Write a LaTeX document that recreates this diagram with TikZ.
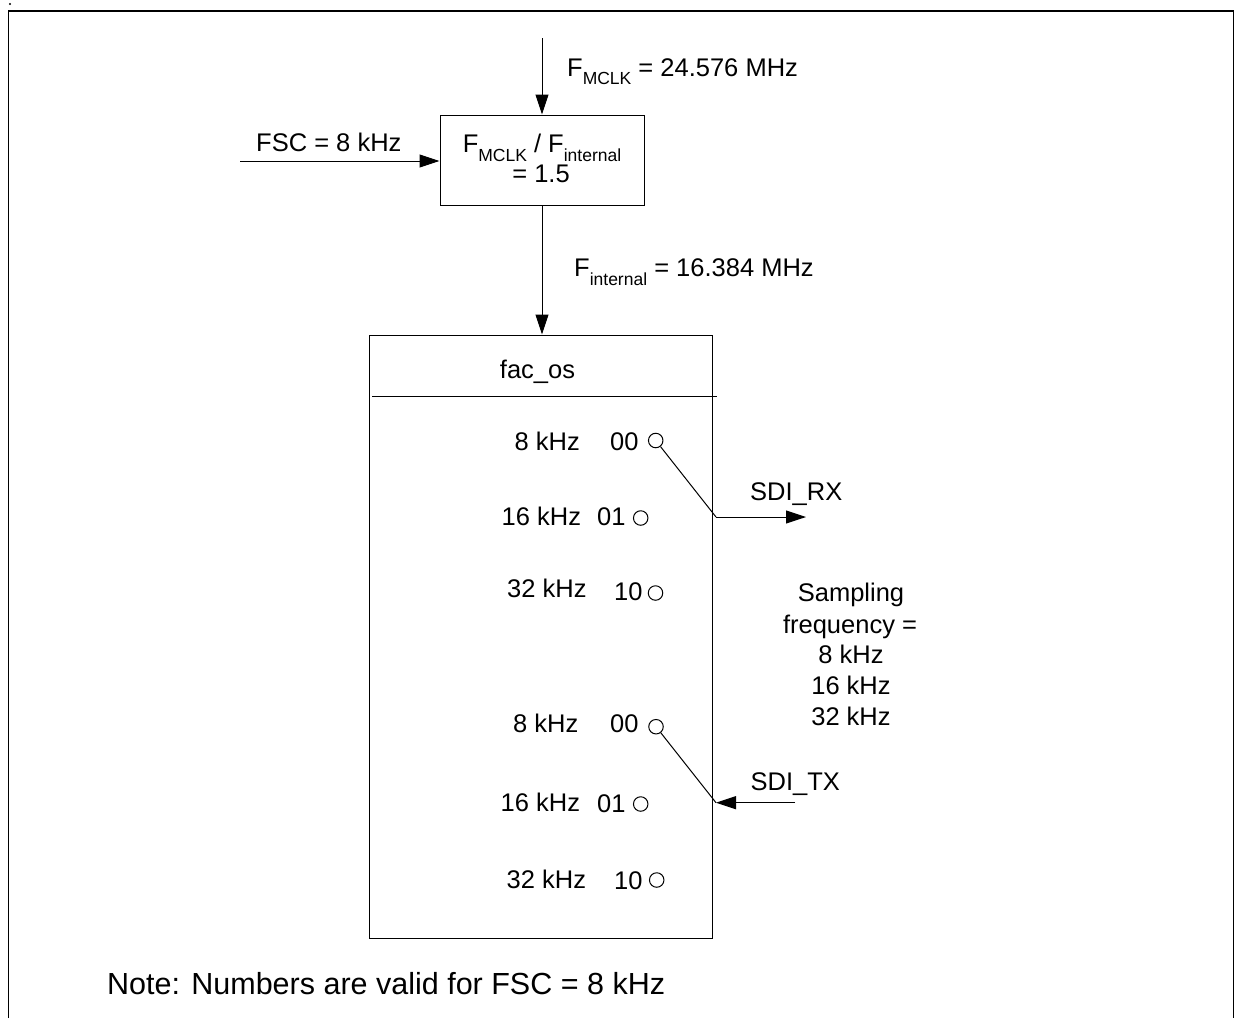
\documentclass[tikz,border=0pt]{standalone}
\usepackage{fontspec}
\setmainfont{Liberation Sans}
\usetikzlibrary{arrows.meta}
\newcommand\mysub[1]{\raisebox{-8.5pt}{\fontsize{17.5}{17.5}\selectfont #1}}
\tikzset{
  lbl/.style={inner sep=0pt, font=\fontsize{25.5}{30}\selectfont},
  arr/.style={-{Triangle[length=20pt,width=13pt]}},
  thin/.style={line width=1pt},
  sw/.style={circle, draw, line width=1pt, minimum size=14.5pt, inner sep=0pt},
  boxst/.style={draw, line width=1pt, inner sep=0pt}
}
\begin{document}
\begin{tikzpicture}[x=1pt,y=-1pt]
\useasboundingbox (0,0) rectangle (1236,1018);
% outer frame (open at bottom)
\draw[line width=1.6pt] (8.3,1018) -- (8.3,10.7) -- (1233.3,10.7) -- (1233.3,1018);
\fill (10,4) circle (1.2pt);

% divider box
\node[boxst, minimum width=204pt, minimum height=90pt] (div) at (542,160) {};
\node[lbl, anchor=base] (divt1) at (542,152.7) {F\mysub{MCLK} / F\mysub{internal}};
\node[lbl, anchor=base] (divt2) at (541,182) {= 1.5};

% input arrows
\coordinate (mclkin) at (542,38);
\draw[thin,arr] (mclkin) -- (div.north);
\node[lbl, anchor=base west] (mclk) at (567,76) {F\mysub{MCLK} = 24.576 MHz};

\coordinate (fscin) at (240,161);
\draw[thin,arr] (fscin) -- (div.west |- fscin);
\node[lbl, anchor=base west] (fsc) at (256,151) {FSC = 8 kHz};

% fac_os box
\node[boxst, minimum width=343pt, minimum height=603pt] (fos) at (540.5,636.5) {};
\draw[thin,arr] (div.south) -- (div.south |- fos.north);
\node[lbl, anchor=base west] (fint) at (574,276.7) {F\mysub{internal} = 16.384 MHz};
\node[lbl, anchor=base] (fac) at (537.5,378) {fac\_os};
\coordinate (sepl) at (372,396);
\coordinate (sepr) at (717,396);
\draw[thin] (sepl) -- (sepr);

% RX group
\node[lbl, anchor=base west] (r1f) at (514.5,450.7) {8 kHz};
\node[lbl, anchor=base west] (r1c) at (610,450.7) {00};
\node[sw] (c1) at (655.7,440.5) {};
\node[lbl, anchor=base west] (r2f) at (501.5,525) {16 kHz};
\node[lbl, anchor=base west] (r2c) at (597,525) {01};
\node[sw] (c2) at (640.7,518) {};
\node[lbl, anchor=base west] (r3f) at (507,597) {32 kHz};
\node[lbl, anchor=base west] (r3c) at (614,600.7) {10};
\node[sw] (c3) at (655.5,593) {};

\coordinate (rxj) at (716,517);
\coordinate (rxo) at (806,517);
\draw[thin] (c1) -- (rxj);
\draw[thin,arr] (rxj) -- (rxo);
\node[lbl, anchor=base west] (rx) at (750,500) {SDI\_RX};

% TX group
\node[lbl, anchor=base west] (t1f) at (513,732) {8 kHz};
\node[lbl, anchor=base west] (t1c) at (610,732) {00};
\node[sw] (c4) at (656,726.7) {};
\node[lbl, anchor=base west] (t2f) at (500.5,811.7) {16 kHz};
\node[lbl, anchor=base west] (t2c) at (597,812.7) {01};
\node[sw] (c5) at (640.7,804) {};
\node[lbl, anchor=base west] (t3f) at (506.5,888) {32 kHz};
\node[lbl, anchor=base west] (t3c) at (614,889) {10};
\node[sw] (c6) at (656.7,880) {};

\coordinate (txj) at (716,802.7);
\coordinate (txi) at (795,802.7);
\draw[thin] (c4) -- (txj);
\draw[thin,arr] (txi) -- (txj);
\node[lbl, anchor=base west] (tx) at (750.5,790) {SDI\_TX};

% sampling frequency text
\node[lbl, anchor=base] (s1) at (851,601.7) {Sampling};
\node[lbl, anchor=base] (s2) at (850,633) {frequency =};
\node[lbl, anchor=base] (s3) at (851,663) {8 kHz};
\node[lbl, anchor=base] (s4) at (851,694) {16 kHz};
\node[lbl, anchor=base] (s5) at (851,725) {32 kHz};

% note
\node[inner sep=0pt, anchor=base west, font=\fontsize{30.5}{35}\selectfont] (note) at (107,994) {Note: Numbers are valid for FSC = 8 kHz};
\end{tikzpicture}
\end{document}
